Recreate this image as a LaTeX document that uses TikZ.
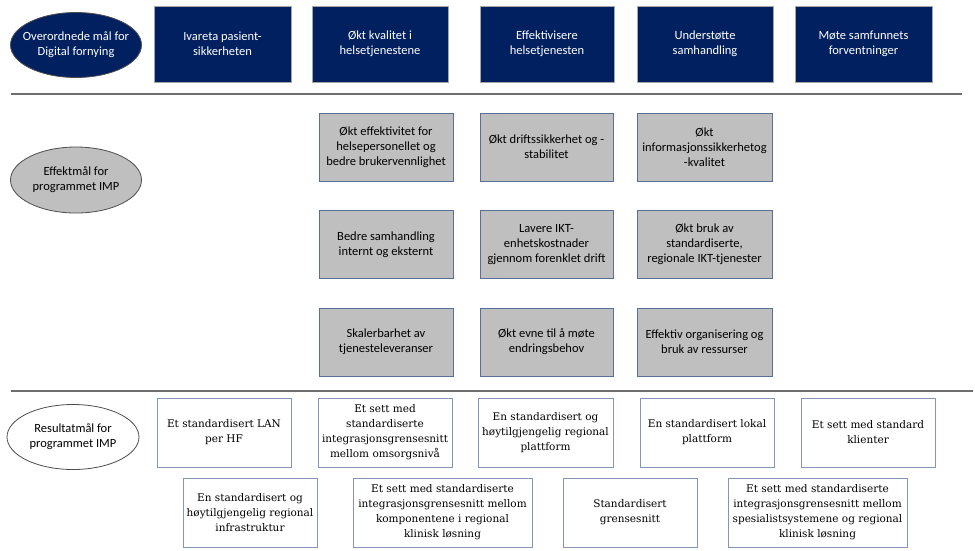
\documentclass[tikz,border=0pt]{standalone}
\usepackage{fontspec}
\setmainfont{Carlito}
\newfontfamily\bodyserif{DejaVu Serif}
\usetikzlibrary{shapes.geometric}
\definecolor{navy}{HTML}{002060}
\definecolor{greyfill}{HTML}{BFBFBF}
\definecolor{greyedge}{HTML}{5A6F98}
\definecolor{whiteedge}{HTML}{8595BA}
\definecolor{rulegrey}{HTML}{6E6E6E}
\definecolor{ovaledge}{HTML}{4D4D4D}
\tikzset{
  sansfont/.style={font=\fontsize{12.5}{15}\selectfont},
  navybox/.style={rectangle, fill=navy, draw=gray!70, line width=0.8pt, text=white, align=center, sansfont, minimum height=76pt, inner sep=2pt},
  ovalshape/.style={ellipse, line width=0.8pt, draw=ovaledge, inner sep=0pt},
  ovaltext/.style={align=center, sansfont, inner sep=0pt},
  greybox/.style={rectangle, fill=greyfill, draw=greyedge, line width=0.9pt, text=black, align=center, sansfont, minimum height=68pt, inner sep=1pt},
  whitebox/.style={rectangle, fill=white, draw=whiteedge, line width=0.9pt, text=black, align=center, font=\bodyserif\fontsize{10.5}{15}\selectfont, minimum height=69pt, inner sep=1pt},
  sectionrule/.style={draw=rulegrey, line width=1.4pt}
}
\begin{document}
\begin{tikzpicture}[x=1pt, y=-1pt]
\useasboundingbox (0,0) rectangle (975,550);
% Top row
\node[ovalshape, fill=navy, minimum width=131pt, minimum height=65pt] (o1) at (76,45) {};
\node[ovaltext, text=white] (o1t) at (o1.center) {Overordnede mål for\\Digital fornying};
\node[navybox, minimum width=137pt] (t1) at (222.5,44) {Ivareta pasient-\\sikkerheten};
\node[navybox, minimum width=136pt] (t2) at (380,44) {Økt kvalitet i\\helsetjenestene};
\node[navybox, minimum width=134pt] (t3) at (547,44) {Effektivisere\\helsetjenesten};
\node[navybox, minimum width=136pt] (t4) at (705,44) {Understøtte\\samhandling};
\node[navybox, minimum width=137pt] (t5) at (863.5,44) {Møte samfunnets\\forventninger};
% Rule 1
\coordinate (r1a) at (11,94);
\coordinate (r1b) at (962,94);
\draw[sectionrule] (r1a) -- (r1b);
% Middle
\node[ovalshape, fill=greyfill, minimum width=131pt, minimum height=66pt] (o2) at (76,180) {};
\node[ovaltext, text=black] (o2t) at (o2.center) {Effektmål for\\programmet IMP};
\node[greybox, minimum width=134pt] (m11) at (386,147) {Økt effektivitet for\\helsepersonellet og\\bedre brukervennlighet};
\node[greybox, minimum width=133pt] (m12) at (546.5,147) {Økt driftssikkerhet og -\\stabilitet};
\node[greybox, minimum width=135pt] (m13) at (704.5,147) {Økt\\informasjonssikkerhetog\\-kvalitet};
\node[greybox, minimum width=134pt] (m21) at (386,244.5) {Bedre samhandling\\internt og eksternt};
\node[greybox, minimum width=133pt] (m22) at (546.5,244.5) {Lavere IKT-\\enhetskostnader\\gjennom forenklet drift};
\node[greybox, minimum width=135pt] (m23) at (704.5,244.5) {Økt bruk av\\standardiserte,\\regionale IKT-tjenester};
\node[greybox, minimum width=134pt] (m31) at (386,342) {Skalerbarhet av\\tjenesteleveranser};
\node[greybox, minimum width=133pt] (m32) at (546.5,342) {Økt evne til å møte\\endringsbehov};
\node[greybox, minimum width=135pt] (m33) at (704.5,342) {Effektiv organisering og\\bruk av ressurser};
% Rule 2
\coordinate (r2a) at (11,391);
\coordinate (r2b) at (973,391);
\draw[sectionrule] (r2a) -- (r2b);
% Bottom
\node[ovalshape, fill=white, minimum width=132pt, minimum height=65pt] (o3) at (73,437) {};
\node[ovaltext, text=black] (o3t) at (o3.center) {Resultatmål for\\programmet IMP};
\node[whitebox, minimum width=134pt] (b1) at (224,432.5) {Et standardisert LAN\\per HF};
\node[whitebox, minimum width=134pt] (b2) at (385,432.5) {Et sett med\\standardiserte\\integrasjonsgrensesnitt\\mellom omsorgsnivå};
\node[whitebox, minimum width=135pt] (b3) at (545.5,432.5) {En standardisert og\\høytilgjengelig regional\\plattform};
\node[whitebox, minimum width=134pt] (b4) at (707,432.5) {En standardisert lokal\\plattform};
\node[whitebox, minimum width=134pt] (b5) at (868,432.5) {Et sett med standard\\klienter};
\node[whitebox, minimum width=134pt] (c1) at (250,512.5) {En standardisert og\\høytilgjengelig regional\\infrastruktur};
\node[whitebox, minimum width=179pt] (c2) at (442.5,512.5) {Et sett med standardiserte\\integrasjonsgrensesnitt mellom\\komponentene i regional\\klinisk løsning};
\node[whitebox, minimum width=134pt] (c3) at (630,512.5) {Standardisert\\grensesnitt};
\node[whitebox, minimum width=179pt] (c4) at (817.5,512.5) {Et sett med standardiserte\\integrasjonsgrensesnitt mellom\\spesialistsystemene og regional\\klinisk løsning};
\end{tikzpicture}
\end{document}
